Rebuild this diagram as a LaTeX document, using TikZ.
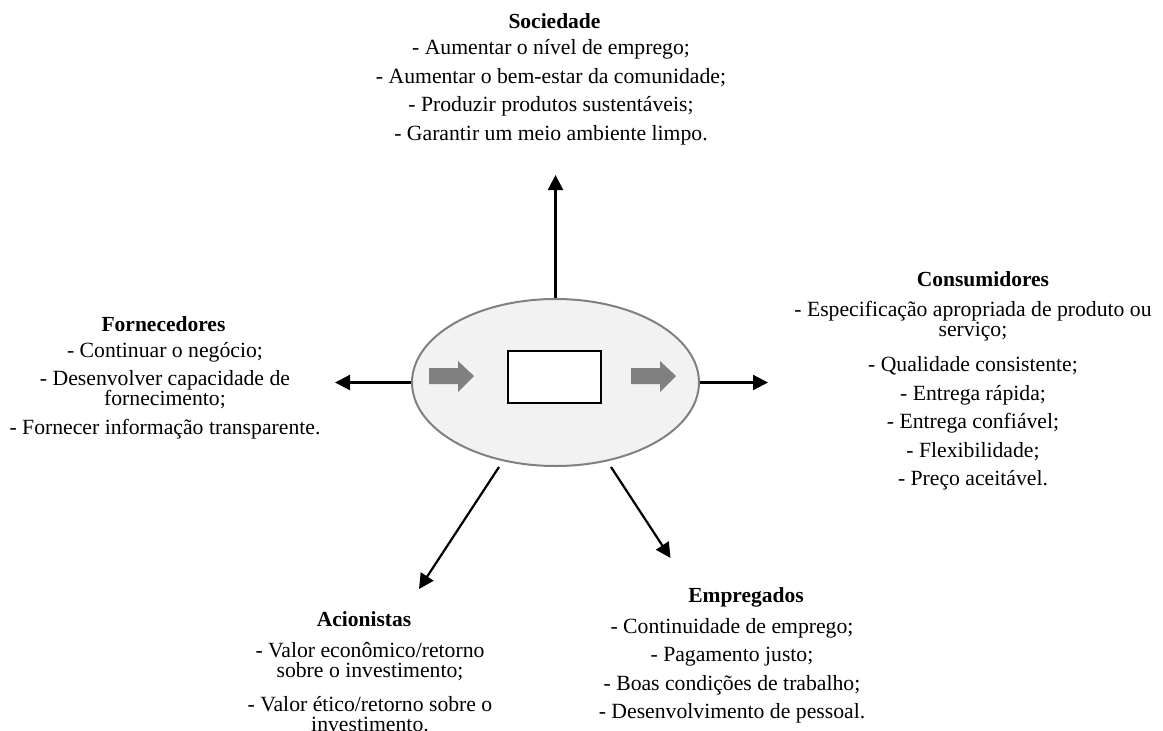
\documentclass[tikz,border=0pt]{standalone}
\usepackage{fontspec}
\setmainfont{Liberation Serif}
\usetikzlibrary{arrows.meta,shapes.geometric}
\definecolor{ellfill}{HTML}{F2F2F2}
\definecolor{midgray}{HTML}{808080}
\lineskiplimit=-50pt
\begin{document}
\begin{tikzpicture}[x=1pt,y=-1pt,
  body/.style={align=center,inner sep=0pt,anchor=north,
    font=\fontsize{21.7}{20}\selectfont},
  ttl/.style={inner sep=0pt,anchor=base,font=\fontsize{21.5}{20}\selectfont\bfseries},
  conn/.style={line width=2.2pt,-{Triangle[length=15pt,width=15pt]}},
  garrow/.style={fill=midgray},
]
\useasboundingbox (0,0) rectangle (1163,731);
\clip (0,0) rectangle (1163,731);

% central ellipse and box
\node[ellipse,draw=midgray,line width=2pt,fill=ellfill,
      minimum width=287pt,minimum height=167pt,inner sep=0pt] (e) at (555.5,382.5) {};
\node[draw=black,line width=2.2pt,fill=white,minimum width=93pt,minimum height=52pt,inner sep=0pt] (box) at (554.5,377) {};

% gray block arrows
\fill[garrow] (429,368) -- (458,368) -- (458,361) -- (474,376) -- (458,392) -- (458,384) -- (429,384) -- cycle;
\fill[garrow] (631,368) -- (660,368) -- (660,361) -- (676,376) -- (660,392) -- (660,384) -- (631,384) -- cycle;

% connector ends
\coordinate (upEnd) at (555.5,175);
\coordinate (leftEnd) at (335,382.5);
\coordinate (rightEnd) at (768,382.5);
\coordinate (dlStart) at (499,467);
\coordinate (dlEnd) at (419,589);
\coordinate (drStart) at (611,467);
\coordinate (drEnd) at (670.5,558);

\draw[conn] (e.north) -- (upEnd);
\draw[conn] (e.west) -- (leftEnd);
\draw[conn] (e.east) -- (rightEnd);
\draw[conn] (dlStart) -- (dlEnd);
\draw[conn] (drStart) -- (drEnd);

% Sociedade
\node[ttl] (socT) at (554.5,28) {Sociedade};
\node[body] (socB) at (551,38.5) {\rule{0pt}{16pt}- Aumentar o nível de emprego;\\[8.5pt]
- Aumentar o bem-estar da comunidade;\\[8.5pt]
- Produzir produtos sustentáveis;\\[8.5pt]
- Garantir um meio ambiente limpo.};

% Consumidores
\node[ttl] (conT) at (983,286) {Consumidores};
\node[body] (conB) at (973,300.7) {\rule{0pt}{16pt}- Especificação apropriada de produto ou\\
serviço;\\[14.8pt]
- Qualidade consistente;\\[8.5pt]
- Entrega rápida;\\[8.5pt]
- Entrega confiável;\\[8.5pt]
- Flexibilidade;\\[8.5pt]
- Preço aceitável.};

% Fornecedores
\node[ttl] (forT) at (163.5,331.7) {Fornecedores};
\node[body] (forB) at (165,341.3) {\rule{0pt}{16pt}- Continuar o negócio;\\[8.4pt]
- Desenvolver capacidade de\\
fornecimento;\\[8.8pt]
- Fornecer informação transparente.};

% Acionistas
\node[ttl] (acT) at (364,626) {Acionistas};
\node[body] (acB) at (370,641.3) {\rule{0pt}{16pt}- Valor econômico/retorno\\
sobre o investimento;\\[14.4pt]
- Valor ético/retorno sobre o\\
investimento.};

% Empregados
\node[ttl] (emT) at (746,602.3) {Empregados};
\node[body] (emB) at (732,617.3) {\rule{0pt}{16pt}- Continuidade de emprego;\\[8.3pt]
- Pagamento justo;\\[8.3pt]
- Boas condições de trabalho;\\[8.3pt]
- Desenvolvimento de pessoal.};
\end{tikzpicture}
\end{document}
